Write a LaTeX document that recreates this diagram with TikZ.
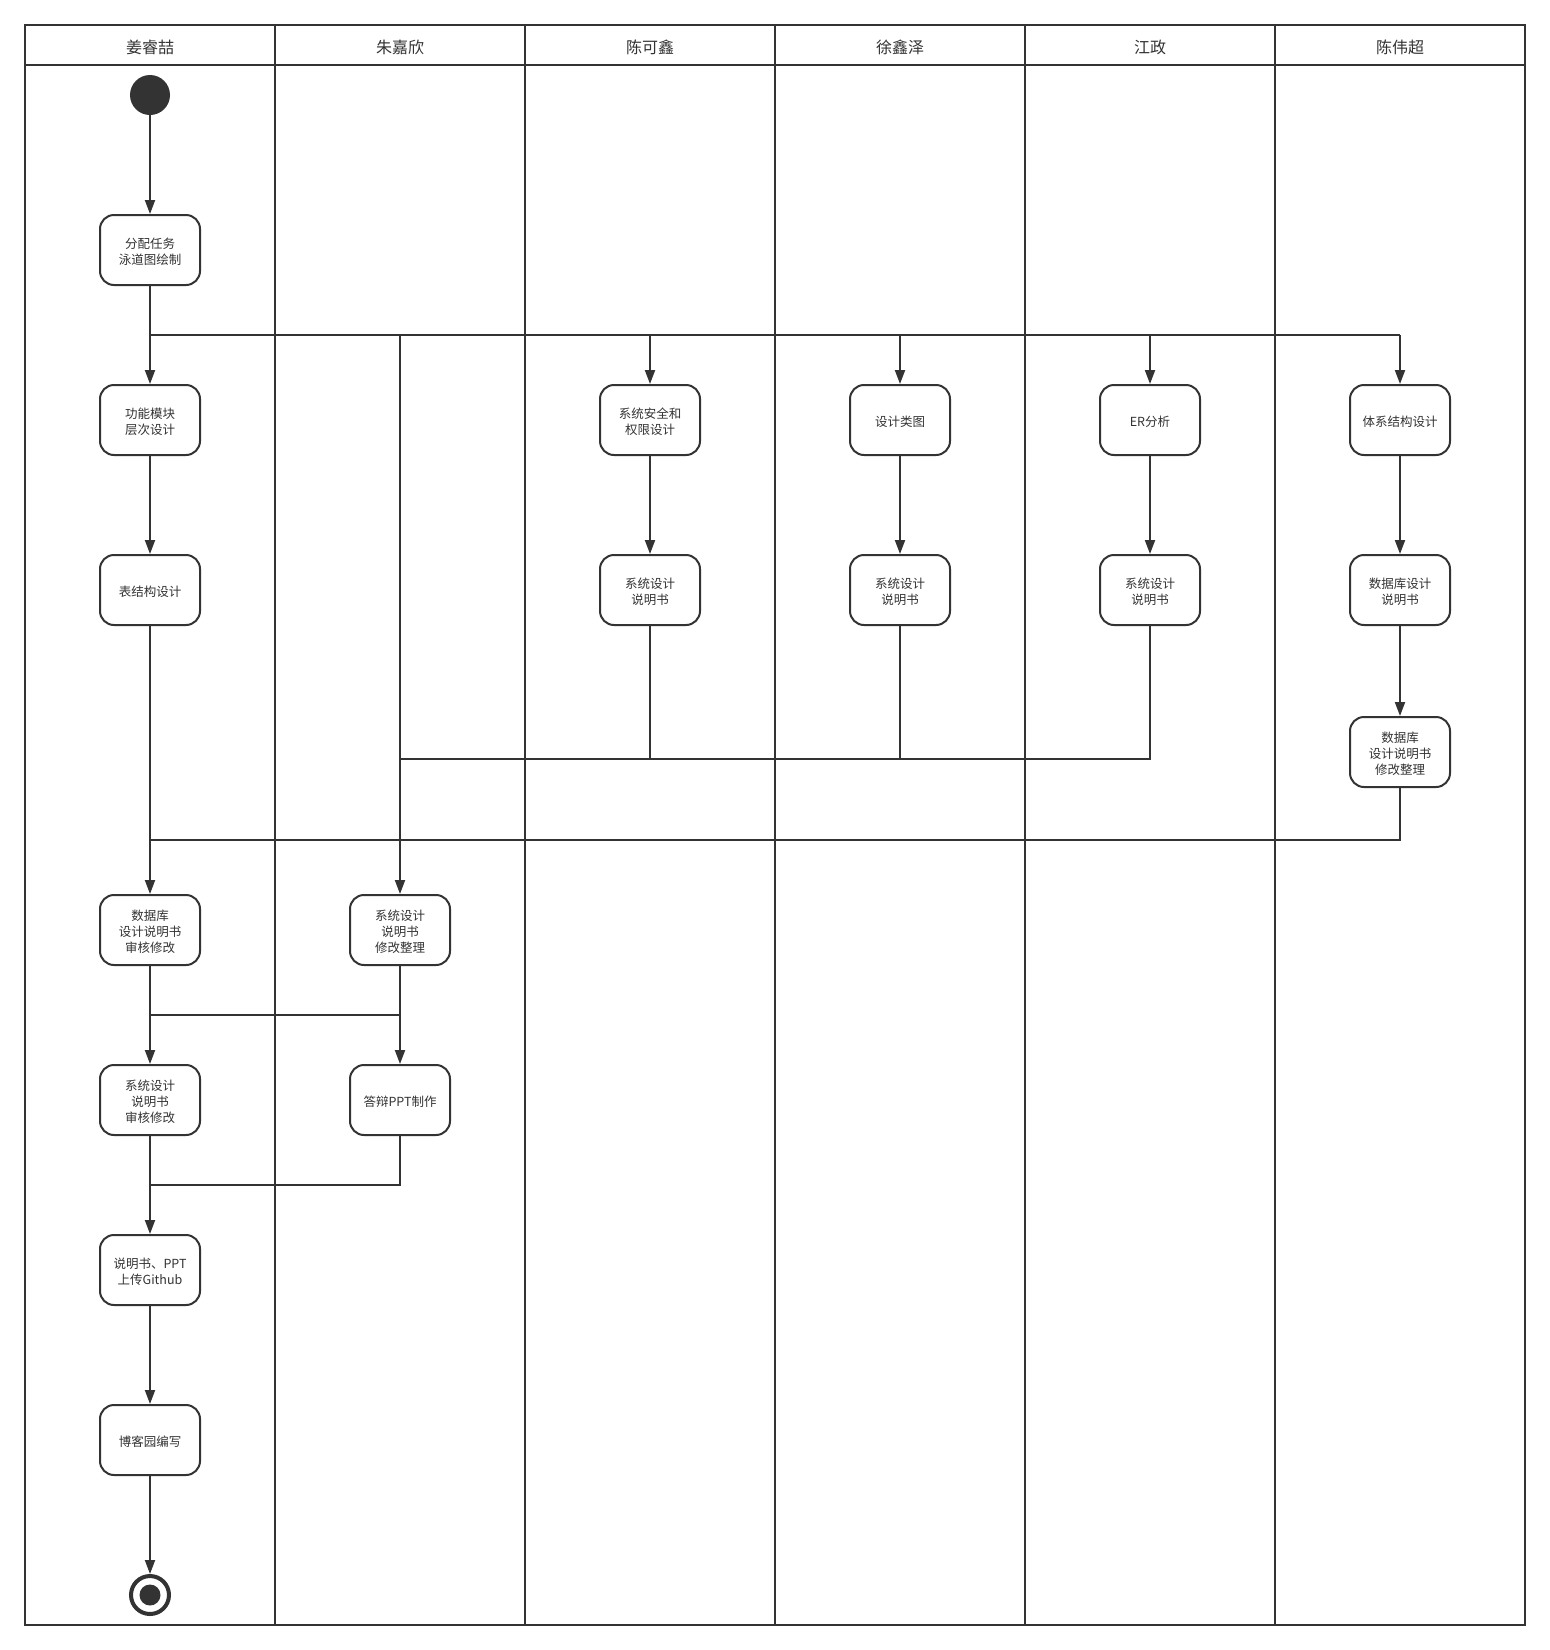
\documentclass[tikz,border=0pt]{standalone}
\usepackage{fontspec}
\setmainfont{Noto Sans CJK SC}
\usetikzlibrary{arrows.meta}
\definecolor{ink}{HTML}{333333}
\definecolor{txt}{HTML}{333333}
\newsavebox\btbox
\newcommand\boxtext[1]{\sbox\btbox{\begin{tabular}{@{}c@{}}#1\end{tabular}}\raisebox{-3.5pt}[\ht\btbox][\dp\btbox]{\usebox\btbox}}
\begin{document}
\begin{tikzpicture}[x=1pt,y=-1pt,
  act/.style={draw=ink, line width=2pt, rounded corners=14pt, minimum width=100pt, minimum height=70pt, inner sep=0pt, font=\fontsize{12.5}{16}\selectfont, text=txt},
  flow/.style={draw=ink, line width=2pt, -{Triangle[length=14pt,width=10pt]}},
  link/.style={draw=ink, line width=2pt},
  lane/.style={draw=ink, line width=2pt},
  hdr/.style={font=\fontsize{16}{19}\selectfont, text=txt, inner sep=0pt}]
\path[fill=white] (0,0) rectangle (1550,1650);
\useasboundingbox (0,0) rectangle (1550,1650);
% swimlanes
\draw[lane] (25,25) rectangle (1525,1625);
\draw[lane] (25,65) -- (1525,65);
\foreach \x in {275,525,775,1025,1275} \draw[lane] (\x,25) -- (\x,1625);
\node[hdr] (L1) at (150,47.5) {姜睿喆};
\node[hdr] (L2) at (400,47.5) {朱嘉欣};
\node[hdr] (L3) at (650,47.5) {陈可鑫};
\node[hdr] (L4) at (900,47.5) {徐鑫泽};
\node[hdr] (L5) at (1150,47.5) {江政};
\node[hdr] (L6) at (1400,47.5) {陈伟超};
% nodes
\node[circle, fill=ink, minimum size=40pt, inner sep=0pt] (start) at (150,95) {};
\node[act] (a1) at (150,250) {\boxtext{分配任务\\泳道图绘制}};
\node[act] (b1) at (150,420) {\boxtext{功能模块\\层次设计}};
\node[act] (b2) at (150,590) {\boxtext{表结构设计}};
\node[act] (c1) at (650,420) {\boxtext{系统安全和\\权限设计}};
\node[act] (c2) at (650,590) {\boxtext{系统设计\\说明书}};
\node[act] (d1) at (900,420) {\boxtext{设计类图}};
\node[act] (d2) at (900,590) {\boxtext{系统设计\\说明书}};
\node[act] (e1) at (1150,420) {\boxtext{ER分析}};
\node[act] (e2) at (1150,590) {\boxtext{系统设计\\说明书}};
\node[act] (f1) at (1400,420) {\boxtext{体系结构设计}};
\node[act] (f2) at (1400,590) {\boxtext{数据库设计\\说明书}};
\node[act] (f3) at (1400,752) {\boxtext{数据库\\设计说明书\\修改整理}};
\node[act] (g1) at (150,930) {\boxtext{数据库\\设计说明书\\审核修改}};
\node[act] (h1) at (400,930) {\boxtext{系统设计\\说明书\\修改整理}};
\node[act] (g2) at (150,1100) {\boxtext{系统设计\\说明书\\审核修改}};
\node[act] (h2) at (400,1100) {\boxtext{答辩PPT制作}};
\node[act] (g3) at (150,1270) {\boxtext{说明书、PPT\\上传Github}};
\node[act] (g4) at (150,1440) {\boxtext{博客园编写}};
\node[circle, draw=ink, line width=4pt, minimum size=38pt, inner sep=0pt] (end) at (150,1595) {};
\node[circle, fill=ink, minimum size=21pt, inner sep=0pt] (endin) at (150,1595) {};
% junction coordinates
\coordinate (fk) at (150,335);
\coordinate (m1) at (400,759);
\coordinate (m2) at (150,840);
\coordinate (j1) at (150,1015);
\coordinate (j2) at (150,1185);
% connectors
\draw[flow] (start) -- (a1);
\draw[link] (a1) -- (fk) -- (f1 |- fk);
\draw[flow] (fk) -- (b1);
\draw[flow] (c1 |- fk) -- (c1);
\draw[flow] (d1 |- fk) -- (d1);
\draw[flow] (e1 |- fk) -- (e1);
\draw[flow] (f1 |- fk) -- (f1);
\draw[flow] (h1 |- fk) -- (h1);
\draw[flow] (b1) -- (b2);
\draw[flow] (c1) -- (c2);
\draw[flow] (d1) -- (d2);
\draw[flow] (e1) -- (e2);
\draw[flow] (f1) -- (f2);
\draw[flow] (f2) -- (f3);
\draw[link] (c2) -- (c2 |- m1);
\draw[link] (d2) -- (d2 |- m1);
\draw[link] (e2) -- (e2 |- m1) -- (m1);
\draw[link] (f3) -- (f3 |- m2) -- (m2);
\draw[flow] (b2) -- (g1);
\draw[flow] (g1) -- (g2);
\draw[flow] (h1) -- (h2);
\draw[link] (j1) -- (h1 |- j1);
\draw[flow] (g2) -- (g3);
\draw[link] (h2) -- (h2 |- j2) -- (j2);
\draw[flow] (g3) -- (g4);
\draw[flow] (g4) -- (end);
\end{tikzpicture}
\end{document}
